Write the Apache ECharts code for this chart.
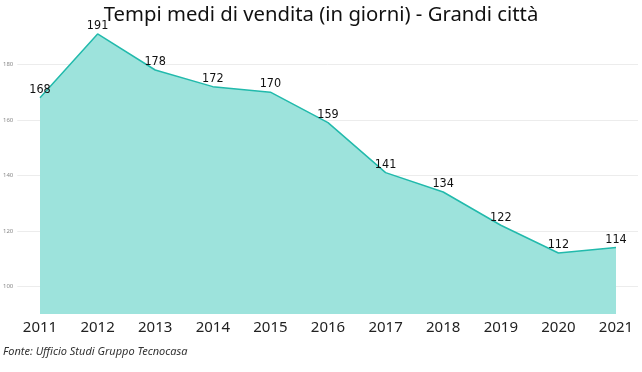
<!DOCTYPE html>
<html><head><meta charset="utf-8">
<script src="https://cdn.jsdelivr.net/npm/echarts@6/dist/echarts.min.js"></script>
<style>html,body{margin:0;padding:0;background:#fff}#c{width:642px;height:372px}</style>
</head><body><div id="c"></div>
<script>
var years = ['2011','2012','2013','2014','2015','2016','2017','2018','2019','2020','2021'];
var days = [168,191,178,172,170,159,141,134,122,112,114];
var yTicks = [100,120,140,160,180];
var titleText = 'Tempi medi di vendita (in giorni) - Grandi città';
var sourceText = 'Fonte: Ufficio Studi Gruppo Tecnocasa';

var yMin = 90, yMax = 200;
var gridColors = [];
for (var v = yMin; v <= yMax; v += 10) gridColors.push(yTicks.indexOf(v) >= 0 ? '#ececec' : 'rgba(0,0,0,0)');

var chart = echarts.init(document.getElementById('c'));
chart.setOption({
  animation: false,
  title: [{
    text: titleText, left: 'center', top: 5, padding: 0,
    textStyle: {fontFamily: 'Noto Sans', fontWeight: 'normal', fontSize: 20.3, color: '#111'}
  }, {
    text: sourceText, left: 3, top: 346, padding: 0,
    textStyle: {fontFamily: 'Noto Sans', fontStyle: 'italic', fontWeight: 'normal', fontSize: 11, color: '#333'}
  }],
  grid: [
    {left: 17, right: 4, top: 9, bottom: 58},
    {left: 40, right: 26, top: 9, bottom: 58}
  ],
  xAxis: [
    {gridIndex: 0, type: 'category', data: years, show: false},
    {gridIndex: 1, type: 'category', data: years, boundaryGap: false,
     axisLine: {show: false}, axisTick: {show: false},
     axisLabel: {fontFamily: 'Noto Sans', fontSize: 15, color: '#222', margin: 6}}
  ],
  yAxis: [
    {gridIndex: 0, type: 'value', min: yMin, max: yMax, interval: 10,
     axisLine: {show: false}, axisTick: {show: false},
     axisLabel: {fontFamily: 'Noto Sans', fontSize: 6, color: '#888', margin: 4,
       formatter: function (v) { return yTicks.indexOf(v) >= 0 ? v : ''; }},
     splitLine: {show: true, lineStyle: {color: gridColors, width: 1}}},
    {gridIndex: 1, type: 'value', min: yMin, max: yMax, show: false, splitLine: {show: false}}
  ],
  series: [{
    type: 'line', xAxisIndex: 1, yAxisIndex: 1, data: days,
    symbol: 'circle', symbolSize: 2, showSymbol: true,
    itemStyle: {color: 'rgba(0,0,0,0)', borderWidth: 0},
    lineStyle: {color: '#22baac', width: 1.5},
    areaStyle: {color: '#9de3dc', opacity: 1, origin: 'start'},
    label: {show: true, position: 'top', distance: 0.5,
      fontFamily: 'DejaVu Sans Condensed', fontSize: 12.5, color: '#111'}
  }]
});
</script></body></html>
